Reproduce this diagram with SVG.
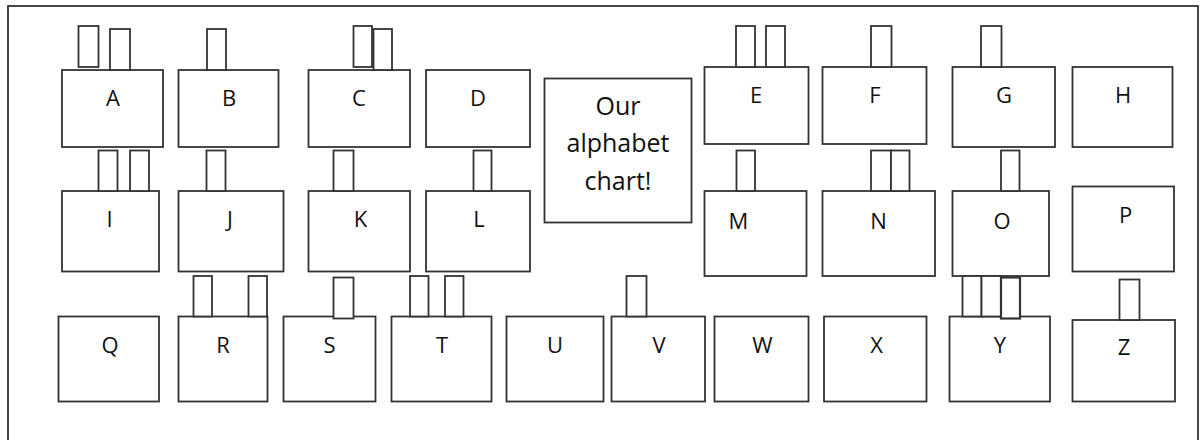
<svg xmlns="http://www.w3.org/2000/svg" width="1201" height="440" viewBox="0 0 1201 440">
<style>
rect{fill:#fff;stroke:#333;stroke-width:1.8}
text{font-family:"Open Sans","Liberation Sans",sans-serif;font-size:22px;fill:#111;text-anchor:middle}
.t{font-size:25px}
</style>
<rect id="frame" x="8" y="6" width="1190" height="450"/>
<g id="title"><rect x="544.5" y="78.5" width="147" height="144"/><text class="t" x="618" y="115">Our</text><text class="t" x="618" y="152">alphabet</text><text class="t" x="618" y="190">chart!</text></g>
<g id="A"><rect x="62" y="70" width="101" height="77"/><rect x="78.5" y="26" width="20" height="41"/><rect x="110" y="29" width="20" height="41"/><text x="113" y="106">A</text></g>
<g id="B"><rect x="178.5" y="70" width="100" height="77"/><rect x="207" y="29" width="19" height="41"/><text x="229" y="106">B</text></g>
<g id="C"><rect x="308.5" y="70" width="101.5" height="77"/><rect x="353.5" y="26" width="18.5" height="41"/><rect x="373.5" y="29" width="18.5" height="41"/><text x="359" y="106">C</text></g>
<g id="D"><rect x="426" y="70" width="104" height="77"/><text x="478" y="106">D</text></g>
<g id="E"><rect x="704.5" y="67" width="104" height="77"/><rect x="736" y="26" width="19" height="41"/><rect x="766" y="26" width="19" height="41"/><text x="756" y="103">E</text></g>
<g id="F"><rect x="822.5" y="67" width="104" height="77"/><rect x="871" y="26" width="20.5" height="41"/><text x="875" y="103">F</text></g>
<g id="G"><rect x="952.5" y="67" width="102.5" height="80"/><rect x="981" y="26" width="20.5" height="41"/><text x="1004" y="103">G</text></g>
<g id="H"><rect x="1072.5" y="67" width="100" height="80"/><text x="1123" y="103">H</text></g>
<g id="I"><rect x="62" y="191" width="97" height="80.5"/><rect x="98.5" y="150.5" width="19" height="40.5"/><rect x="130" y="150.5" width="19" height="40.5"/><text x="109.5" y="226.5">I</text></g>
<g id="J"><rect x="178.5" y="191" width="105" height="80.5"/><rect x="206.5" y="150.5" width="19" height="40.5"/><text x="230" y="226.5">J</text></g>
<g id="K"><rect x="308.5" y="191" width="101.5" height="80.5"/><rect x="333.5" y="150.5" width="20" height="40.5"/><text x="360.5" y="226.5">K</text></g>
<g id="L"><rect x="426" y="191" width="104" height="80.5"/><rect x="473.5" y="150.5" width="18" height="40.5"/><text x="479" y="226.5">L</text></g>
<g id="M"><rect x="704.5" y="191" width="102" height="85"/><rect x="736.5" y="150.5" width="18.5" height="40.5"/><text x="738.5" y="228.5">M</text></g>
<g id="N"><rect x="822.5" y="191" width="112.5" height="85"/><rect x="871" y="150.5" width="20" height="40.5"/><rect x="891" y="150.5" width="18.5" height="40.5"/><text x="878.5" y="228.5">N</text></g>
<g id="O"><rect x="952.5" y="191" width="96.5" height="85"/><rect x="1001" y="150.5" width="18.5" height="40.5"/><text x="1002" y="228.5">O</text></g>
<g id="P"><rect x="1072.5" y="186.5" width="101.5" height="85"/><text x="1125.5" y="222.5">P</text></g>
<g id="Q"><rect x="58.5" y="316.5" width="100.5" height="85"/><text x="110" y="353">Q</text></g>
<g id="R"><rect x="178.5" y="316.5" width="89" height="85"/><rect x="193.5" y="276" width="18.5" height="40.5"/><rect x="248.5" y="276" width="18.5" height="40.5"/><text x="223" y="353">R</text></g>
<g id="S"><rect x="283.5" y="316.5" width="92" height="85"/><rect x="333.5" y="277.5" width="20" height="41"/><text x="329.5" y="353">S</text></g>
<g id="T"><rect x="391.5" y="316.5" width="100" height="85"/><rect x="410" y="276" width="18.5" height="40.5"/><rect x="445" y="276" width="18.5" height="40.5"/><text x="442" y="353">T</text></g>
<g id="U"><rect x="506.5" y="316.5" width="97" height="85"/><text x="555" y="353">U</text></g>
<g id="V"><rect x="611.5" y="316.5" width="93.5" height="85"/><rect x="626.5" y="276" width="20" height="40.5"/><text x="659" y="353">V</text></g>
<g id="W"><rect x="714.5" y="316.5" width="94" height="85"/><text x="762.5" y="353">W</text></g>
<g id="X"><rect x="824" y="316.5" width="102.5" height="85"/><text x="876.5" y="353">X</text></g>
<g id="Y"><rect x="949.5" y="316.5" width="100.5" height="85"/><rect x="962.5" y="276" width="19" height="40.5"/><rect x="981.5" y="276" width="19.5" height="40.5"/><rect x="1001" y="277.5" width="19" height="41" style="stroke-width:2.2"/><text x="1000" y="353">Y</text></g>
<g id="Z"><rect x="1072.5" y="320" width="102.5" height="81.5"/><rect x="1119.5" y="279.5" width="20" height="40.5"/><text x="1124" y="355">Z</text></g>
</svg>
